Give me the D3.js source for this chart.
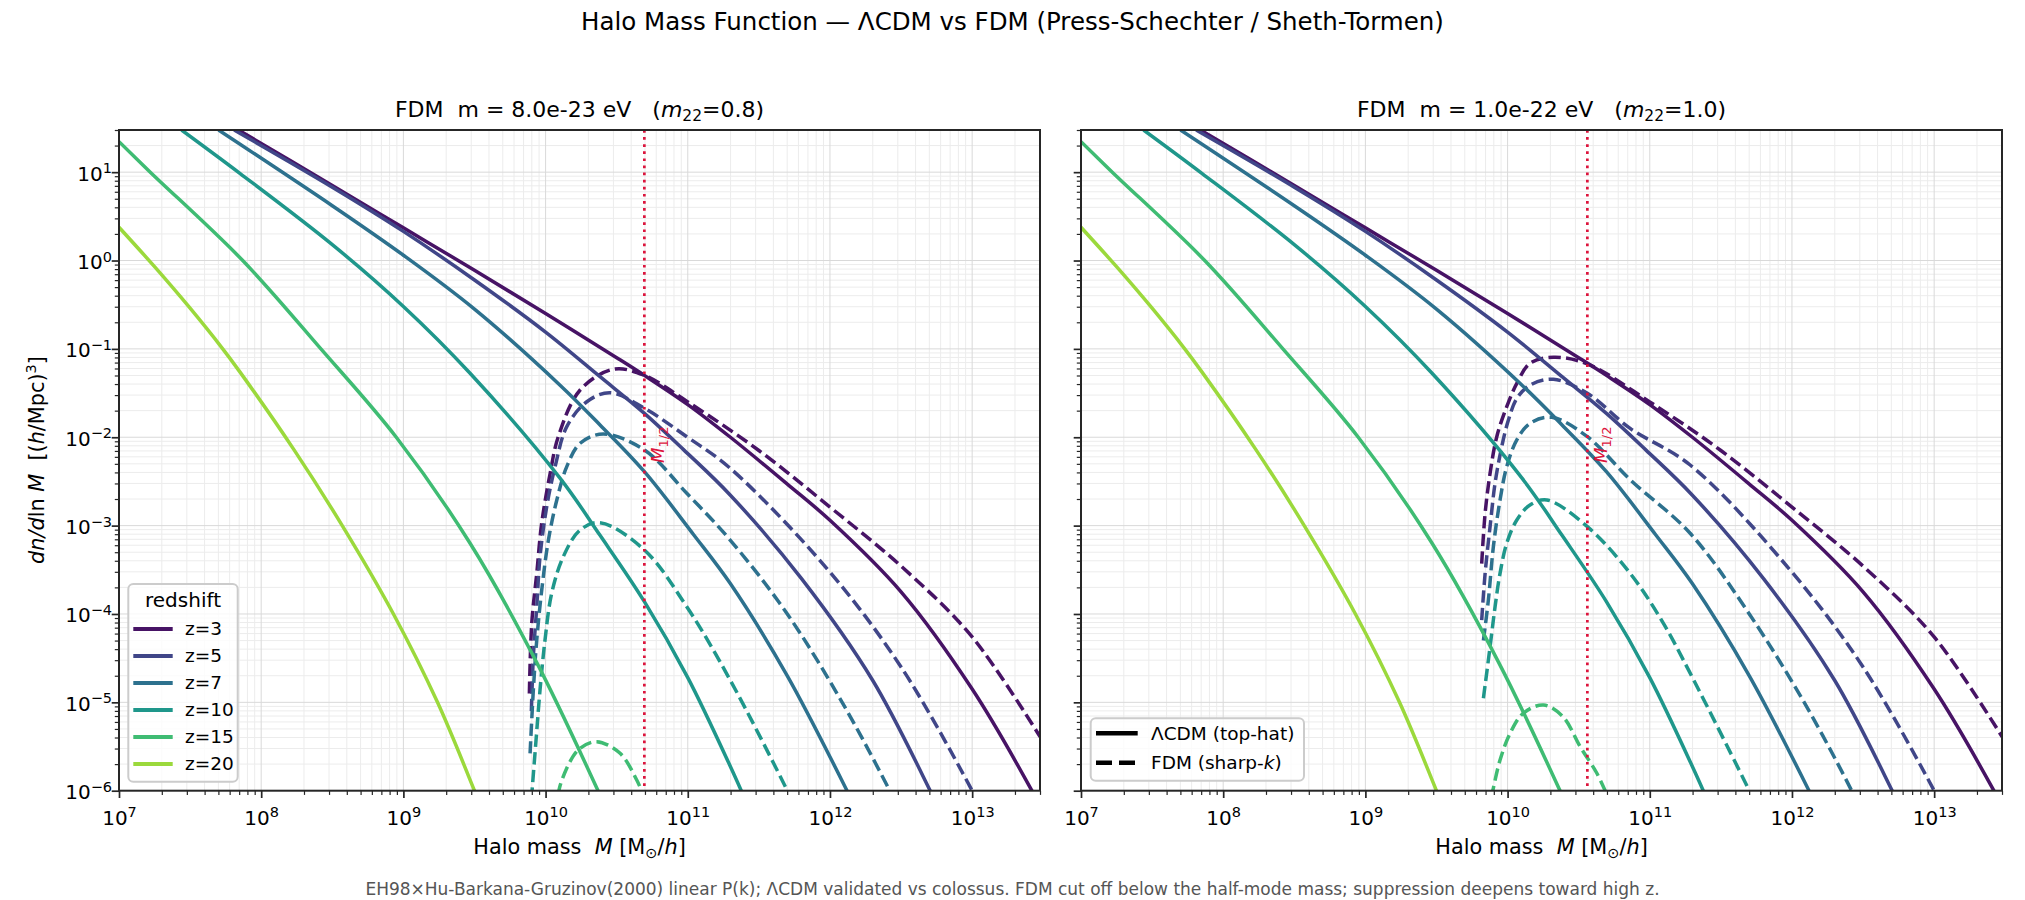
<!DOCTYPE html>
<html>
<head>
<meta charset="utf-8">
<script src="https://cdn.jsdelivr.net/npm/d3@7"></script>
<style>
  body { margin: 0; background: #fff; }
  svg { display: block; }
  text { font-family: "DejaVu Sans", sans-serif; white-space: pre; }
</style>
</head>
<body>
<div id="chart"></div>
<script>
// ---- data: [log10 M (Msun/h), log10 dn/dlnM ((h/Mpc)^3)] ----
const redshifts = [3, 5, 7, 10, 15, 20];
const m22 = [0.8, 1.0];
const mHalf = [4.95e10, 3.64e10];
const xTickExps = [7, 8, 9, 10, 11, 12, 13];
const yTickExps = [-6, -5, -4, -3, -2, -1, 0, 1];

// LCDM (top-hat), same in both panels
const lcdm_z3 = [[7.84, 1.477], [8.5, 0.85], [9, 0.37], [9.5, -0.11], [10, -0.6], [10.5, -1.1], [10.695, -1.3],
  [11, -1.63], [11.3, -2.0], [11.7, -2.53], [12, -2.94], [12.5, -3.75], [13, -4.85], [13.42, -6.0], [13.5, -6.25]];
const lcdm_z5 = [[7.81, 1.477], [8.5, 0.83], [9, 0.33], [9.5, -0.22], [10, -0.81], [10.383, -1.315],
  [10.695, -1.73], [10.97, -2.14], [11.298, -2.653], [11.8, -3.6], [12.3, -4.75], [12.705, -6.0], [12.75, -6.15]];
const lcdm_z7 = [[7.7, 1.477], [8.5, 0.62], [9, 0.06], [9.5, -0.55], [10.1, -1.408], [10.383, -1.861], [10.695, -2.39],
  [11.04, -3.1], [11.298, -3.653], [11.7, -4.7], [12.12, -6.0], [12.15, -6.1]];
const lcdm_z10 = [[7.44, 1.477], [7.85, 0.987], [8.5, 0.18], [9, -0.52], [9.469, -1.276], [10.1, -2.46], [10.383, -3.11],
  [10.695, -3.86], [11, -4.72], [11.298, -5.72], [11.39, -6.05]];
const lcdm_z15 = [[7, 1.345], [7.22, 1.0], [7.87, 0.0], [8.42, -1.0], [8.95, -2.0], [9.469, -3.2], [9.938, -4.55],
  [10.36, -5.97], [10.39, -6.08]];
const lcdm_z20 = [[7, 0.376], [7.25, -0.07], [7.5, -0.54], [7.72, -0.98], [7.85, -1.26], [8.23, -2.14], [8.57, -3.0],
  [8.93, -4.0], [9.24, -5.0], [9.5, -6.0], [9.52, -6.08]];

// FDM (sharp-k), m22 = 0.8
const fdm08_z3 = [[9.886, -4.9], [9.903, -4.1], [9.938, -3.54], [9.973, -2.97], [10.032, -2.41], [10.09, -1.99],
  [10.243, -1.465], [10.477, -1.231], [10.688, -1.295], [11, -1.6], [11.5, -2.15], [12, -2.79], [12.517, -3.483],
  [13, -4.26], [13.478, -5.39]];
const fdm08_z5 = [[9.9, -5.1], [9.914, -4.48], [9.938, -3.918], [9.961, -3.35], [10.008, -2.786], [10.067, -2.333],
  [10.149, -1.88], [10.29, -1.598], [10.453, -1.496], [10.695, -1.672], [10.993, -1.994], [11.298, -2.351],
  [11.977, -3.483], [12.5, -4.6], [13, -6.0], [13.03, -6.1]];
const fdm08_z7 = [[9.891, -5.577], [9.914, -4.86], [9.938, -4.294], [9.973, -3.729], [10.02, -3.163], [10.079, -2.71],
  [10.149, -2.333], [10.243, -2.068], [10.406, -1.963], [10.695, -2.144], [10.993, -2.634], [11.298, -3.163],
  [11.7, -4.0], [12.1, -5.04], [12.42, -6.0], [12.44, -6.07]];
const fdm08_z10 = [[9.9, -6.1], [9.933, -5.426], [9.961, -4.86], [9.996, -4.294], [10.043, -3.766], [10.125, -3.35],
  [10.243, -3.05], [10.383, -2.967], [10.695, -3.276], [10.993, -3.918], [11.298, -4.747], [11.7, -6.0], [11.72, -6.07]];
const fdm08_z15 = [[10.09, -6.05], [10.1, -5.955], [10.172, -5.67], [10.243, -5.52], [10.36, -5.445], [10.524, -5.577],
  [10.641, -5.879], [10.68, -6.02]];

// FDM (sharp-k), m22 = 1.0
const fdm10_z3 = [[9.818, -3.43], [9.842, -2.86], [9.877, -2.408], [9.924, -1.994], [9.994, -1.654], [10.065, -1.39],
  [10.158, -1.163], [10.322, -1.095], [10.561, -1.17], [11, -1.6], [11.5, -2.15], [12, -2.79], [12.517, -3.483],
  [13, -4.26], [13.478, -5.39]];
const fdm10_z5 = [[9.818, -4.07], [9.842, -3.54], [9.877, -3.01], [9.912, -2.52], [9.959, -2.107], [10.006, -1.805],
  [10.065, -1.56], [10.158, -1.41], [10.322, -1.344], [10.561, -1.503], [10.862, -1.9], [11.284, -2.314],
  [11.977, -3.483], [12.5, -4.6], [13, -6.0], [13.03, -6.1]];
const fdm10_z7 = [[9.83, -4.3], [9.865, -3.84], [9.9, -3.24], [9.947, -2.71], [9.994, -2.333], [10.065, -2.03],
  [10.158, -1.842], [10.31, -1.774], [10.561, -1.994], [10.862, -2.48], [11.284, -3.087], [11.7, -4.0], [12.1, -5.04],
  [12.42, -6.0], [12.44, -6.07]];
const fdm10_z10 = [[9.83, -4.954], [9.877, -4.37], [9.912, -3.918], [9.947, -3.54], [9.994, -3.2], [10.065, -2.936],
  [10.158, -2.767], [10.276, -2.71], [10.561, -3.012], [10.862, -3.54], [11.096, -4.106], [11.284, -4.67], [11.7, -6.0],
  [11.72, -6.07]];
const fdm10_z15 = [[9.885, -6.08], [9.9, -5.97], [9.947, -5.653], [10.018, -5.35], [10.11, -5.124], [10.253, -5.03],
  [10.39, -5.163], [10.51, -5.5], [10.627, -5.8], [10.7, -6.05]];

const lcdmSeries = [lcdm_z3, lcdm_z5, lcdm_z7, lcdm_z10, lcdm_z15, lcdm_z20];
const panels = [
  { m22: m22[0], mHalf: mHalf[0], fdm: [fdm08_z3, fdm08_z5, fdm08_z7, fdm08_z10, fdm08_z15, null] },
  { m22: m22[1], mHalf: mHalf[1], fdm: [fdm10_z3, fdm10_z5, fdm10_z7, fdm10_z10, fdm10_z15, null] },
];

// ---- layout ----
const W = 2025, H = 900;
const plotTop = 130, plotBottom = 790.7;
const panelX = [[119, 1040], [1081, 2002]];
const ink = "#262626";
const colorFor = (i) => d3.interpolateViridis(0.05 + 0.16 * i);
const isMajor = (v) => Math.abs(Math.log10(v) - Math.round(Math.log10(v))) < 1e-6;

const svg = d3.select("#chart").append("svg")
  .attr("width", W).attr("height", H)
  .attr("viewBox", `0 0 ${W} ${H}`);

svg.append("text")
  .attr("x", W / 2).attr("y", 29.5)
  .attr("text-anchor", "middle")
  .attr("font-size", 24.5)
  .attr("fill", "#000")
  .text("Halo Mass Function — ΛCDM vs FDM (Press-Schechter / Sheth-Tormen)");

const y = d3.scaleLog().domain([1e-6, 30]).range([plotBottom, plotTop]);

panels.forEach((p, pi) => {
  const [x0, x1] = panelX[pi];
  const x = d3.scaleLog().domain([1e7, 3e13]).range([x0, x1]);
  const xTicks = x.ticks();
  const yTicks = y.ticks();

  const clipId = `plot-clip-${pi}`;
  svg.append("clipPath").attr("id", clipId)
    .append("rect")
    .attr("x", x0).attr("y", plotTop)
    .attr("width", x1 - x0).attr("height", plotBottom - plotTop);

  // grid (minor first, then major)
  const grid = svg.append("g").attr("class", "grid");
  [false, true].forEach((major) => {
    const stroke = major ? "#d9d9d9" : "#ececec";
    grid.selectAll(null).data(xTicks.filter((v) => isMajor(v) === major)).join("line")
      .attr("x1", (d) => x(d)).attr("x2", (d) => x(d))
      .attr("y1", plotTop).attr("y2", plotBottom)
      .attr("stroke", stroke).attr("stroke-width", 1);
    grid.selectAll(null).data(yTicks.filter((v) => isMajor(v) === major)).join("line")
      .attr("x1", x0).attr("x2", x1)
      .attr("y1", (d) => y(d)).attr("y2", (d) => y(d))
      .attr("stroke", stroke).attr("stroke-width", 1);
  });

  // curves
  const line = d3.line()
    .x((d) => x(Math.pow(10, d[0])))
    .y((d) => y(Math.pow(10, d[1])))
    .curve(d3.curveCatmullRom.alpha(0.5));

  const curves = svg.append("g").attr("clip-path", `url(#${clipId})`);
  redshifts.forEach((z, i) => {
    curves.append("path")
      .datum(lcdmSeries[i])
      .attr("d", line)
      .attr("fill", "none")
      .attr("stroke", colorFor(i))
      .attr("stroke-width", 3.5)
      .attr("stroke-linejoin", "round");
    if (p.fdm[i]) {
      curves.append("path")
        .datum(p.fdm[i])
        .attr("d", line)
        .attr("fill", "none")
        .attr("stroke", colorFor(i))
        .attr("stroke-width", 3.5)
        .attr("stroke-dasharray", "12.3,5.3")
        .attr("stroke-linejoin", "round");
    }
  });

  // half-mode mass marker
  const xm = x(p.mHalf);
  curves.append("line")
    .attr("x1", xm).attr("x2", xm)
    .attr("y1", plotTop).attr("y2", plotBottom)
    .attr("stroke", "crimson")
    .attr("stroke-width", 2.7)
    .attr("stroke-dasharray", "2.7,4.4");
  const mLab = svg.append("text")
    .attr("transform", `translate(${xm + 20},463) rotate(-90)`)
    .attr("font-size", 18)
    .attr("fill", "crimson");
  mLab.append("tspan").attr("font-style", "italic").text("M");
  mLab.append("tspan").attr("font-size", 13).attr("dy", 4).text("1/2");

  // axes
  const xAxisMinor = svg.append("g").attr("transform", `translate(0,${plotBottom})`)
    .call(d3.axisBottom(x).tickValues(xTicks.filter((v) => !isMajor(v))).tickSize(4.2).tickFormat(""));
  const xAxisMajor = svg.append("g").attr("transform", `translate(0,${plotBottom})`)
    .call(d3.axisBottom(x).tickValues(xTickExps.map((e) => Math.pow(10, e))).tickSize(7.3).tickFormat(""));
  const yAxisMinor = svg.append("g").attr("transform", `translate(${x0},0)`)
    .call(d3.axisLeft(y).tickValues(yTicks.filter((v) => !isMajor(v))).tickSize(4.2).tickFormat(""));
  const yAxisMajor = svg.append("g").attr("transform", `translate(${x0},0)`)
    .call(d3.axisLeft(y).tickValues(yTickExps.map((e) => Math.pow(10, e))).tickSize(7.3).tickFormat(""));

  [xAxisMinor, xAxisMajor, yAxisMinor, yAxisMajor].forEach((a) => {
    a.select(".domain").remove();
    a.attr("font-family", null).attr("font-size", 20);
    a.selectAll(".tick line").attr("stroke", ink);
  });
  [xAxisMinor, yAxisMinor].forEach((a) => a.selectAll(".tick line").attr("stroke-width", 1.2));
  [xAxisMajor, yAxisMajor].forEach((a) => a.selectAll(".tick line").attr("stroke-width", 1.7));

  xAxisMajor.selectAll(".tick text")
    .attr("y", 34).attr("dy", null).attr("fill", "#000")
    .each(function (d) {
      const t = d3.select(this);
      t.append("tspan").text("10");
      t.append("tspan").attr("font-size", 14.5).attr("dy", -8)
        .text(String(Math.round(Math.log10(d))).replace("-", "\u2212"));
    });

  if (pi === 0) {
    yAxisMajor.selectAll(".tick text")
      .attr("x", -7).attr("y", 8).attr("dy", null).attr("fill", "#000")
      .each(function (d) {
        const t = d3.select(this);
        t.append("tspan").text("10");
        t.append("tspan").attr("font-size", 14.5).attr("dy", -7.5)
          .text(String(Math.round(Math.log10(d))).replace("-", "\u2212"));
      });
  } else {
    yAxisMajor.selectAll(".tick text").remove();
  }

  // frame
  svg.append("rect")
    .attr("x", x0).attr("y", plotTop)
    .attr("width", x1 - x0).attr("height", plotBottom - plotTop)
    .attr("fill", "none").attr("stroke", ink).attr("stroke-width", 2);

  // panel title
  const cx = (x0 + x1) / 2;
  const title = svg.append("text")
    .attr("x", cx).attr("y", 117)
    .attr("text-anchor", "middle")
    .attr("font-size", 22).attr("fill", "#000");
  const mEv = (p.m22 * 1e-22).toExponential(1);
  title.append("tspan").text(`FDM  m = ${mEv} eV   (`);
  title.append("tspan").attr("font-style", "italic").text("m");
  title.append("tspan").attr("font-size", 15.5).attr("dy", 4).text("22");
  title.append("tspan").attr("dy", -4).text(`=${p.m22.toFixed(1)})`);

  // x label
  const xl = svg.append("text")
    .attr("x", cx).attr("y", 854)
    .attr("text-anchor", "middle")
    .attr("font-size", 20.8).attr("fill", "#000");
  xl.append("tspan").text("Halo mass  ");
  xl.append("tspan").attr("font-style", "italic").text("M");
  xl.append("tspan").text(" [M");
  xl.append("tspan").attr("font-size", 14.5).attr("dy", 4).text("\u2299");
  xl.append("tspan").attr("dy", -4).text("/");
  xl.append("tspan").attr("font-style", "italic").text("h");
  xl.append("tspan").text("]");

  // legends
  if (pi === 0) {
    const lg = svg.append("g");
    lg.append("rect")
      .attr("x", 128.3).attr("y", 584).attr("width", 109.4).attr("height", 197.7)
      .attr("rx", 5).attr("fill", "#fff").attr("fill-opacity", 0.8)
      .attr("stroke", "#cccccc").attr("stroke-width", 2);
    lg.append("text")
      .attr("x", 183).attr("y", 606.7).attr("text-anchor", "middle")
      .attr("font-size", 20).attr("fill", "#000").text("redshift");
    redshifts.forEach((z, i) => {
      const ly = 629 + i * 27;
      lg.append("line")
        .attr("x1", 133.3).attr("x2", 172.7).attr("y1", ly).attr("y2", ly)
        .attr("stroke", colorFor(i)).attr("stroke-width", 3.8);
      lg.append("text")
        .attr("x", 185).attr("y", ly + 6.3)
        .attr("font-size", 18.5).attr("fill", "#000").text(`z=${z}`);
    });
  } else {
    const lg = svg.append("g");
    lg.append("rect")
      .attr("x", 1090.7).attr("y", 718.3).attr("width", 213.3).attr("height", 62.4)
      .attr("rx", 5).attr("fill", "#fff").attr("fill-opacity", 0.8)
      .attr("stroke", "#cccccc").attr("stroke-width", 2);
    [733.3, 762.7].forEach((ly, k) => {
      lg.append("line")
        .attr("x1", 1096).attr("x2", 1137.7).attr("y1", ly).attr("y2", ly)
        .attr("stroke", "#000").attr("stroke-width", 4.4)
        .attr("stroke-dasharray", k === 1 ? "16,7" : null);
    });
    lg.append("text").attr("x", 1151).attr("y", 739.8)
      .attr("font-size", 18.5).attr("fill", "#000").text("ΛCDM (top-hat)");
    const t2 = lg.append("text").attr("x", 1151).attr("y", 769.2)
      .attr("font-size", 18.5).attr("fill", "#000");
    t2.append("tspan").text("FDM (sharp-");
    t2.append("tspan").attr("font-style", "italic").text("k");
    t2.append("tspan").text(")");
  }
});

// y label (shared)
const yl = svg.append("text")
  .attr("transform", `translate(44,460) rotate(-90)`)
  .attr("text-anchor", "middle")
  .attr("font-size", 20.8).attr("fill", "#000");
yl.append("tspan").attr("font-style", "italic").text("dn/d");
yl.append("tspan").text("ln ");
yl.append("tspan").attr("font-style", "italic").text("M");
yl.append("tspan").text("  [(");
yl.append("tspan").attr("font-style", "italic").text("h");
yl.append("tspan").text("/Mpc)");
yl.append("tspan").attr("font-size", 14.5).attr("dy", -8).text("3");
yl.append("tspan").attr("dy", 8).text("]");

// footnote
svg.append("text")
  .attr("x", W / 2).attr("y", 895)
  .attr("text-anchor", "middle")
  .attr("font-size", 17).attr("fill", "#555")
  .text("EH98×Hu-Barkana-Gruzinov(2000) linear P(k); ΛCDM validated vs colossus. FDM cut off below the half-mode mass; suppression deepens toward high z.");
</script>
</body>
</html>
